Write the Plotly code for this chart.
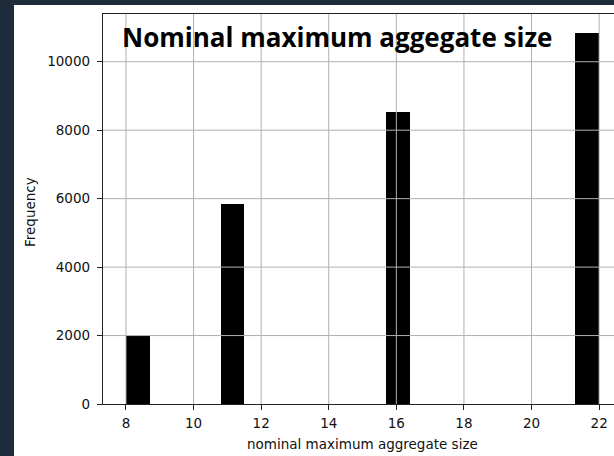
import numpy as np
import plotly.graph_objects as go

# ---- data ----
sizes = [8, 11, 16, 22]            # nominal maximum aggregate size values
counts = [1980, 5850, 8540, 10850]  # frequency of each value
n_bins = 20
x_ticks = [8, 10, 12, 14, 16, 18, 20, 22]
y_ticks = [0, 2000, 4000, 6000, 8000, 10000]
title_text = "Nominal maximum aggegate size"
x_label = "nominal maximum aggregate size"
y_label = "Frequency"

# histogram bins like matplotlib (20 equal bins between min and max)
edges = np.linspace(min(sizes), max(sizes), n_bins + 1)
bw = edges[1] - edges[0]
idx = np.clip(np.searchsorted(edges, sizes, side="right") - 1, 0, n_bins - 1)
lefts = edges[idx]

W, H = 614, 456
ML, MR, MT, MB = 103, 0, 14, 52
PW, PH = W - ML - MR, H - MT - MB

def px_x(p):
    return (p - ML) / PW

def px_y(p):
    return (H - MB - p) / PH

dark = "#1e2b3b"
grid_c = "#b0b0b0"
tick_font = dict(family="DejaVu Sans", size=13.5, color="#111")

fig = go.Figure()
fig.add_trace(go.Bar(
    x=lefts, y=counts, width=[bw] * len(counts), offset=0,
    marker=dict(color="black", line=dict(width=0)),
    showlegend=False, hoverinfo="x+y",
))

shapes = []
# white card on dark background
shapes.append(dict(type="rect", xref="paper", yref="paper",
                   x0=px_x(14), x1=px_x(W + 5), y0=px_y(H + 5), y1=px_y(5),
                   fillcolor="white", line=dict(width=0), layer="below"))
# grid lines drawn above the bars (as in matplotlib)
for t in x_ticks:
    shapes.append(dict(type="line", xref="x", yref="paper", x0=t, x1=t, y0=0, y1=1,
                       line=dict(color=grid_c, width=1), layer="above"))
for t in y_ticks[1:]:
    shapes.append(dict(type="line", xref="paper", yref="y", x0=0, x1=1, y0=t, y1=t,
                       line=dict(color=grid_c, width=1), layer="above"))

annotations = [
    dict(text=f"<b>{title_text}</b>", xref="paper", yref="paper",
         x=px_x(120), y=px_y(37), xanchor="left", yanchor="middle", showarrow=False,
         font=dict(family="Open Sans, sans-serif", size=26, color="black")),
    dict(text=x_label, xref="x", yref="paper", x=(edges[0] - bw + edges[-1] + bw) / 2,
         y=px_y(444), xanchor="center", yanchor="middle", showarrow=False,
         font=dict(family="DejaVu Sans", size=13.5, color="#111")),
    dict(text=y_label, xref="paper", yref="paper", x=px_x(30), y=px_y(212),
         xanchor="center", yanchor="middle", textangle=-90, showarrow=False,
         font=dict(family="DejaVu Sans", size=13.5, color="#111")),
]

fig.update_layout(
    width=W, height=H,
    margin=dict(l=ML, r=MR, t=MT, b=MB, pad=0),
    paper_bgcolor=dark, plot_bgcolor="white",
    shapes=shapes, annotations=annotations,
    bargap=0,
    xaxis=dict(range=[7.32, 22.44], tickvals=x_ticks, ticktext=[str(t) for t in x_ticks],
               showgrid=False, zeroline=False, showline=True, linecolor="#222", linewidth=1.3,
               mirror=True, ticks="outside", ticklen=5, tickcolor="#222", tickwidth=1,
               tickfont=tick_font, layer="above traces", ticklabelstandoff=2),
    yaxis=dict(range=[0, 11395], tickvals=y_ticks, ticktext=[str(t) for t in y_ticks],
               showgrid=False, zeroline=False, showline=True, linecolor="#222", linewidth=1.3,
               ticks="outside", ticklen=5, tickcolor="#222", tickwidth=1,
               tickfont=tick_font, layer="above traces", ticklabelstandoff=4),
)

fig.write_html(
    "out.html",
    config={"displayModeBar": False},
    post_script="document.body.style.margin='0';document.body.style.padding='0';"
                "document.body.style.overflow='hidden';",
)
